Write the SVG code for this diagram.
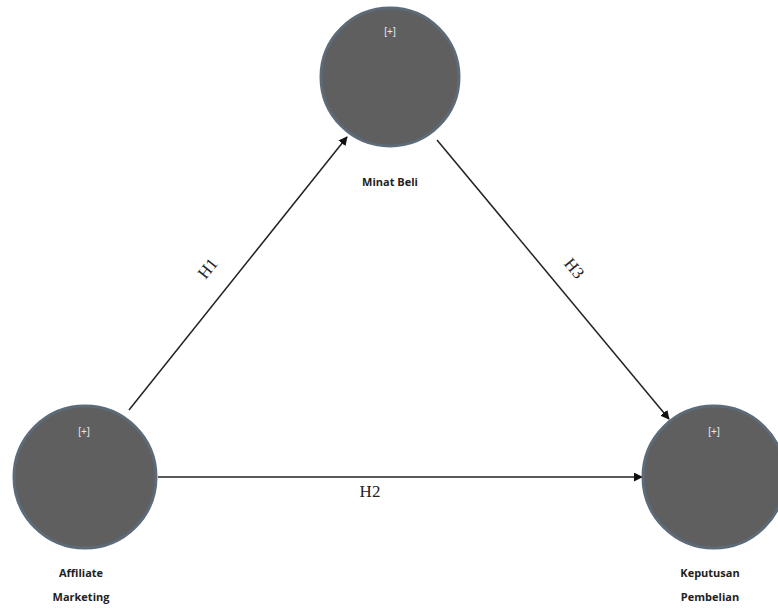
<svg xmlns="http://www.w3.org/2000/svg" width="778" height="608" viewBox="0 0 778 608">
<style>
.node{fill:#5f5f5f;stroke:#5d6b78;stroke-width:3}
.plus{font-family:"Liberation Sans",Arial,sans-serif;font-size:10px;fill:#e8e8e8;text-anchor:middle}
.lbl{font-family:"Open Sans","Liberation Sans",sans-serif;font-size:11px;font-weight:bold;fill:#222;text-anchor:middle}
.h{font-family:"Liberation Serif","Times New Roman",serif;font-size:17px;fill:#222;text-anchor:middle}
.edge{stroke:#222;stroke-width:1.5;fill:none;marker-end:url(#ah)}
</style>
<defs>
<marker id="ah" viewBox="0 0 10 10" refX="9" refY="5" markerWidth="9" markerHeight="9" markerUnits="userSpaceOnUse" orient="auto">
<path d="M0,0 L10,5 L0,10 z" fill="#111"/>
</marker>
</defs>
<rect width="778" height="608" fill="#ffffff"/>
<g id="connectors">
<line class="edge" x1="129" y1="410" x2="347" y2="137"/>
<line class="edge" x1="437" y1="140" x2="669" y2="419"/>
<line class="edge" x1="158" y1="477" x2="642" y2="477"/>
<text class="h" transform="translate(212,272) rotate(-51)">H1</text>
<text class="h" transform="translate(570,272) rotate(50)">H3</text>
<text class="h" x="370" y="497">H2</text>
</g>
<g id="minat-beli">
<circle class="node" cx="390" cy="77" r="69"/>
<text class="plus" x="390" y="35">[+]</text>
<text class="lbl" x="390" y="186">Minat Beli</text>
</g>
<g id="affiliate-marketing">
<circle class="node" cx="85" cy="477" r="71"/>
<text class="plus" x="84" y="435">[+]</text>
<text class="lbl" x="81" y="577">Affiliate</text>
<text class="lbl" x="81" y="601">Marketing</text>
</g>
<g id="keputusan-pembelian">
<circle class="node" cx="714" cy="477" r="71"/>
<text class="plus" x="714" y="435">[+]</text>
<text class="lbl" x="710" y="577">Keputusan</text>
<text class="lbl" x="710" y="601">Pembelian</text>
</g>
</svg>
